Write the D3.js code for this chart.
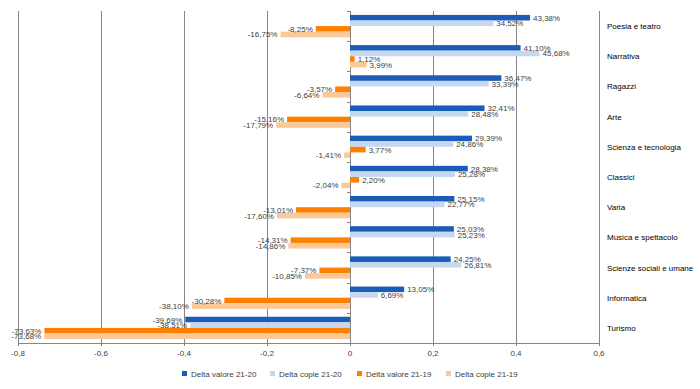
<!DOCTYPE html>
<html><head><meta charset="utf-8">
<script src="https://cdn.jsdelivr.net/npm/d3@7"></script>
<style>
body{margin:0;background:#fff;}
svg{font-family:"Liberation Sans",Arial,sans-serif;}
</style></head>
<body><svg id="c" width="700" height="389"></svg>
<script>
const categories = ["Poesia e teatro","Narrativa","Ragazzi","Arte","Scienza e tecnologia","Classici","Varia","Musica e spettacolo","Scienze sociali e umane","Informatica","Turismo"];
const seriesNames = ["Delta valore 21-20","Delta copie 21-20","Delta valore 21-19","Delta copie 21-19"];
const valore2120 = [0.4338,0.4110,0.3647,0.3241,0.2939,0.2838,0.2515,0.2503,0.2425,0.1305,-0.3969];
const copie2120  = [0.3452,0.4568,0.3339,0.2848,0.2486,0.2528,0.2277,0.2523,0.2681,0.0669,-0.3851];
const valore2119 = [-0.0825,0.0112,-0.0357,-0.1516,0.0377,0.0220,-0.1301,-0.1431,-0.0737,-0.3028,-0.7363];
const copie2119  = [-0.1675,0.0399,-0.0664,-0.1779,-0.0141,-0.0204,-0.1760,-0.1486,-0.1085,-0.3810,-0.7368];
const tickValues = [-0.8,-0.6,-0.4,-0.2,0,0.2,0.4,0.6];
const tickLabels = ["-0,8","-0,6","-0,4","-0,2","0","0,2","0,4","0,6"];
const colors = ["#1a5cb8","#c5d8f0","#ff8000","#fbc898"];

const series = [valore2120, copie2120, valore2119, copie2119];
const svg = d3.select("#c");
const x = d3.scaleLinear().domain([-0.8,0.6]).range([18,599]);
const y = d3.scaleBand().domain(categories).range([11,343]).paddingInner(0.26).paddingOuter(0.13);
const sub = d3.scaleBand().domain(d3.range(4)).range([0,y.bandwidth()]);

// gridlines
svg.append("g").selectAll("line").data(tickValues).join("line")
  .attr("x1",d=>Math.round(x(d))+0.5).attr("x2",d=>Math.round(x(d))+0.5)
  .attr("y1",11).attr("y2",346).attr("stroke","#868686").attr("stroke-width",1);
// bottom axis line
svg.append("line").attr("x1",x(-0.8)).attr("x2",x(0.6)+0.5).attr("y1",343.5).attr("y2",343.5).attr("stroke","#868686");
// category ticks at zero
const bounds = d3.range(categories.length+1).map(i=>11 + i*y.step());
svg.append("g").selectAll("line").data(bounds).join("line")
  .attr("x1",Math.round(x(0))-3).attr("x2",Math.round(x(0))+0.5)
  .attr("y1",d=>Math.round(d)+0.5).attr("y2",d=>Math.round(d)+0.5).attr("stroke","#868686");

// bars
series.forEach((vals,si)=>{
  const g = svg.append("g");
  g.selectAll("rect").data(vals).join("rect")
    .attr("x",d=>x(Math.min(0,d)))
    .attr("width",d=>Math.abs(x(d)-x(0)))
    .attr("y",(d,i)=>y(categories[i])+sub(si))
    .attr("height",sub.bandwidth())
    .attr("fill",colors[si]);
});
// labels
const fmt = v => (v*100).toFixed(2).replace(".",",")+"%";
series.forEach((vals,si)=>{
  svg.append("g").selectAll("text").data(vals).join("text")
    .attr("x",d=> d>=0 ? x(d)+3 : x(d)-3)
    .attr("y",(d,i)=>y(categories[i])+sub(si)+sub.bandwidth()/2+3)
    .attr("text-anchor",d=>d>=0?"start":"end")
    .attr("font-size","8px").attr("fill","#404040")
    .text(d=>fmt(d));
});
// category labels
svg.append("g").selectAll("text").data(categories).join("text")
  .attr("x",607).attr("y",d=>y(d)+y.bandwidth()/2+3)
  .attr("font-size","8px").attr("fill","#000").text(d=>d);
// x tick labels
svg.append("g").selectAll("text").data(tickValues).join("text")
  .attr("x",d=>x(d)).attr("y",356).attr("text-anchor","middle")
  .attr("font-size","8px").attr("fill","#404040").text((d,i)=>tickLabels[i]);
// legend
const legX = [182,270,357,446];
const lg = svg.append("g").selectAll("g").data(seriesNames).join("g")
  .attr("transform",(d,i)=>`translate(${legX[i]},374)`);
lg.append("rect").attr("x",0).attr("y",-3).attr("width",5).attr("height",5).attr("fill",(d,i)=>colors[i]);
lg.append("text").attr("x",9).attr("y",3).attr("font-size","8px").attr("fill","#404040").text(d=>d);
</script></body></html>
